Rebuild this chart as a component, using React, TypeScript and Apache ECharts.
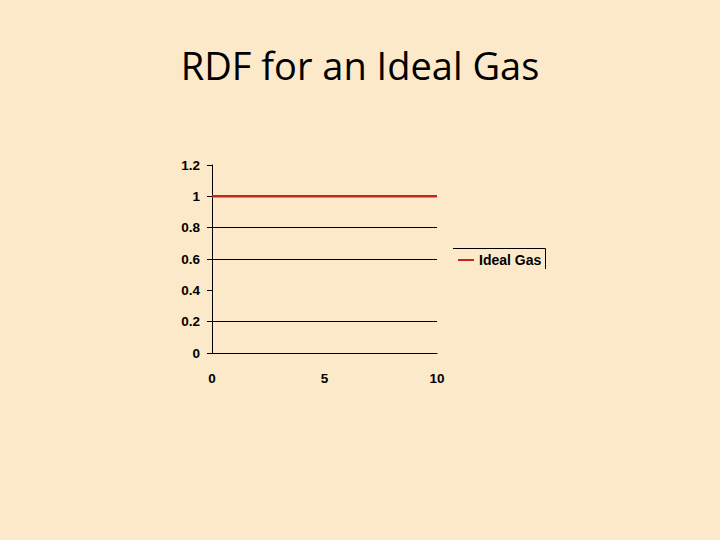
import { useEffect, useRef } from 'react'
import * as echarts from 'echarts'

// Valores: g(r) = 1 para todo r (gas ideal)
const rValores = [0, 10]
const gValores = [1, 1]
const nomeSerie = 'Ideal Gas'
const titulo = 'RDF for an Ideal Gas'

export default function App() {
  const ref = useRef<HTMLDivElement>(null)

  useEffect(() => {
    if (!ref.current) return
    const chart = echarts.init(ref.current, undefined, { renderer: 'svg' })
    const fonte = '"Liberation Sans", Arial, sans-serif'

    chart.setOption({
      animation: false,
      backgroundColor: '#fbe9c9',
      textStyle: { fontFamily: fonte },
      title: {
        text: titulo,
        left: 'center',
        top: 41,
        textStyle: {
          fontFamily: '"Open Sans", sans-serif',
          fontWeight: 'normal',
          fontSize: 38,
          color: '#000',
        },
      },
      grid: { left: 212, top: 165, width: 225, height: 188, containLabel: false },
      xAxis: {
        type: 'value',
        min: 0,
        max: 10,
        interval: 5,
        axisLine: { lineStyle: { color: '#000', width: 1 } },
        axisTick: { show: false },
        splitLine: { show: false },
        axisLabel: { color: '#000', fontWeight: 'bold', fontSize: 13.5, margin: 18 },
      },
      yAxis: {
        type: 'value',
        min: 0,
        max: 1.2,
        interval: 0.2,
        axisLine: { show: true, lineStyle: { color: '#000', width: 1 } },
        axisTick: { show: true, length: 5, lineStyle: { color: '#000' } },
        // a grade da figura nao tem linha em 0.4 nem em 1.2
        splitLine: {
          show: true,
          lineStyle: {
            width: 1,
            color: ['transparent', '#000', 'transparent', '#000', '#000', '#000', 'transparent'],
          },
        },
        axisLabel: { color: '#000', fontWeight: 'bold', fontSize: 13.5, margin: 12 },
      },
      legend: {
        left: 453,
        top: 248,
        icon: 'rect',
        itemWidth: 16,
        itemHeight: 2,
        itemGap: 4,
        textStyle: { color: '#000', fontWeight: 'bold', fontSize: 14, fontFamily: fonte },
        data: [nomeSerie],
      },
      graphic: [
        {
          type: 'polyline',
          shape: { points: [[453, 248.5], [545.5, 248.5], [545.5, 269]] },
          style: { stroke: '#000', lineWidth: 1, fill: 'none' },
          silent: true,
        },
      ],
      series: [
        {
          name: nomeSerie,
          type: 'line',
          showSymbol: false,
          data: rValores.map((r, i) => [r, gValores[i]]),
          lineStyle: { color: '#c0281c', width: 2.5 },
          itemStyle: { color: '#c0281c' },
        },
      ],
    })

    return () => chart.dispose()
  }, [])

  return <div ref={ref} style={{ position: 'fixed', left: 0, top: 0, width: 720, height: 540 }} />
}
